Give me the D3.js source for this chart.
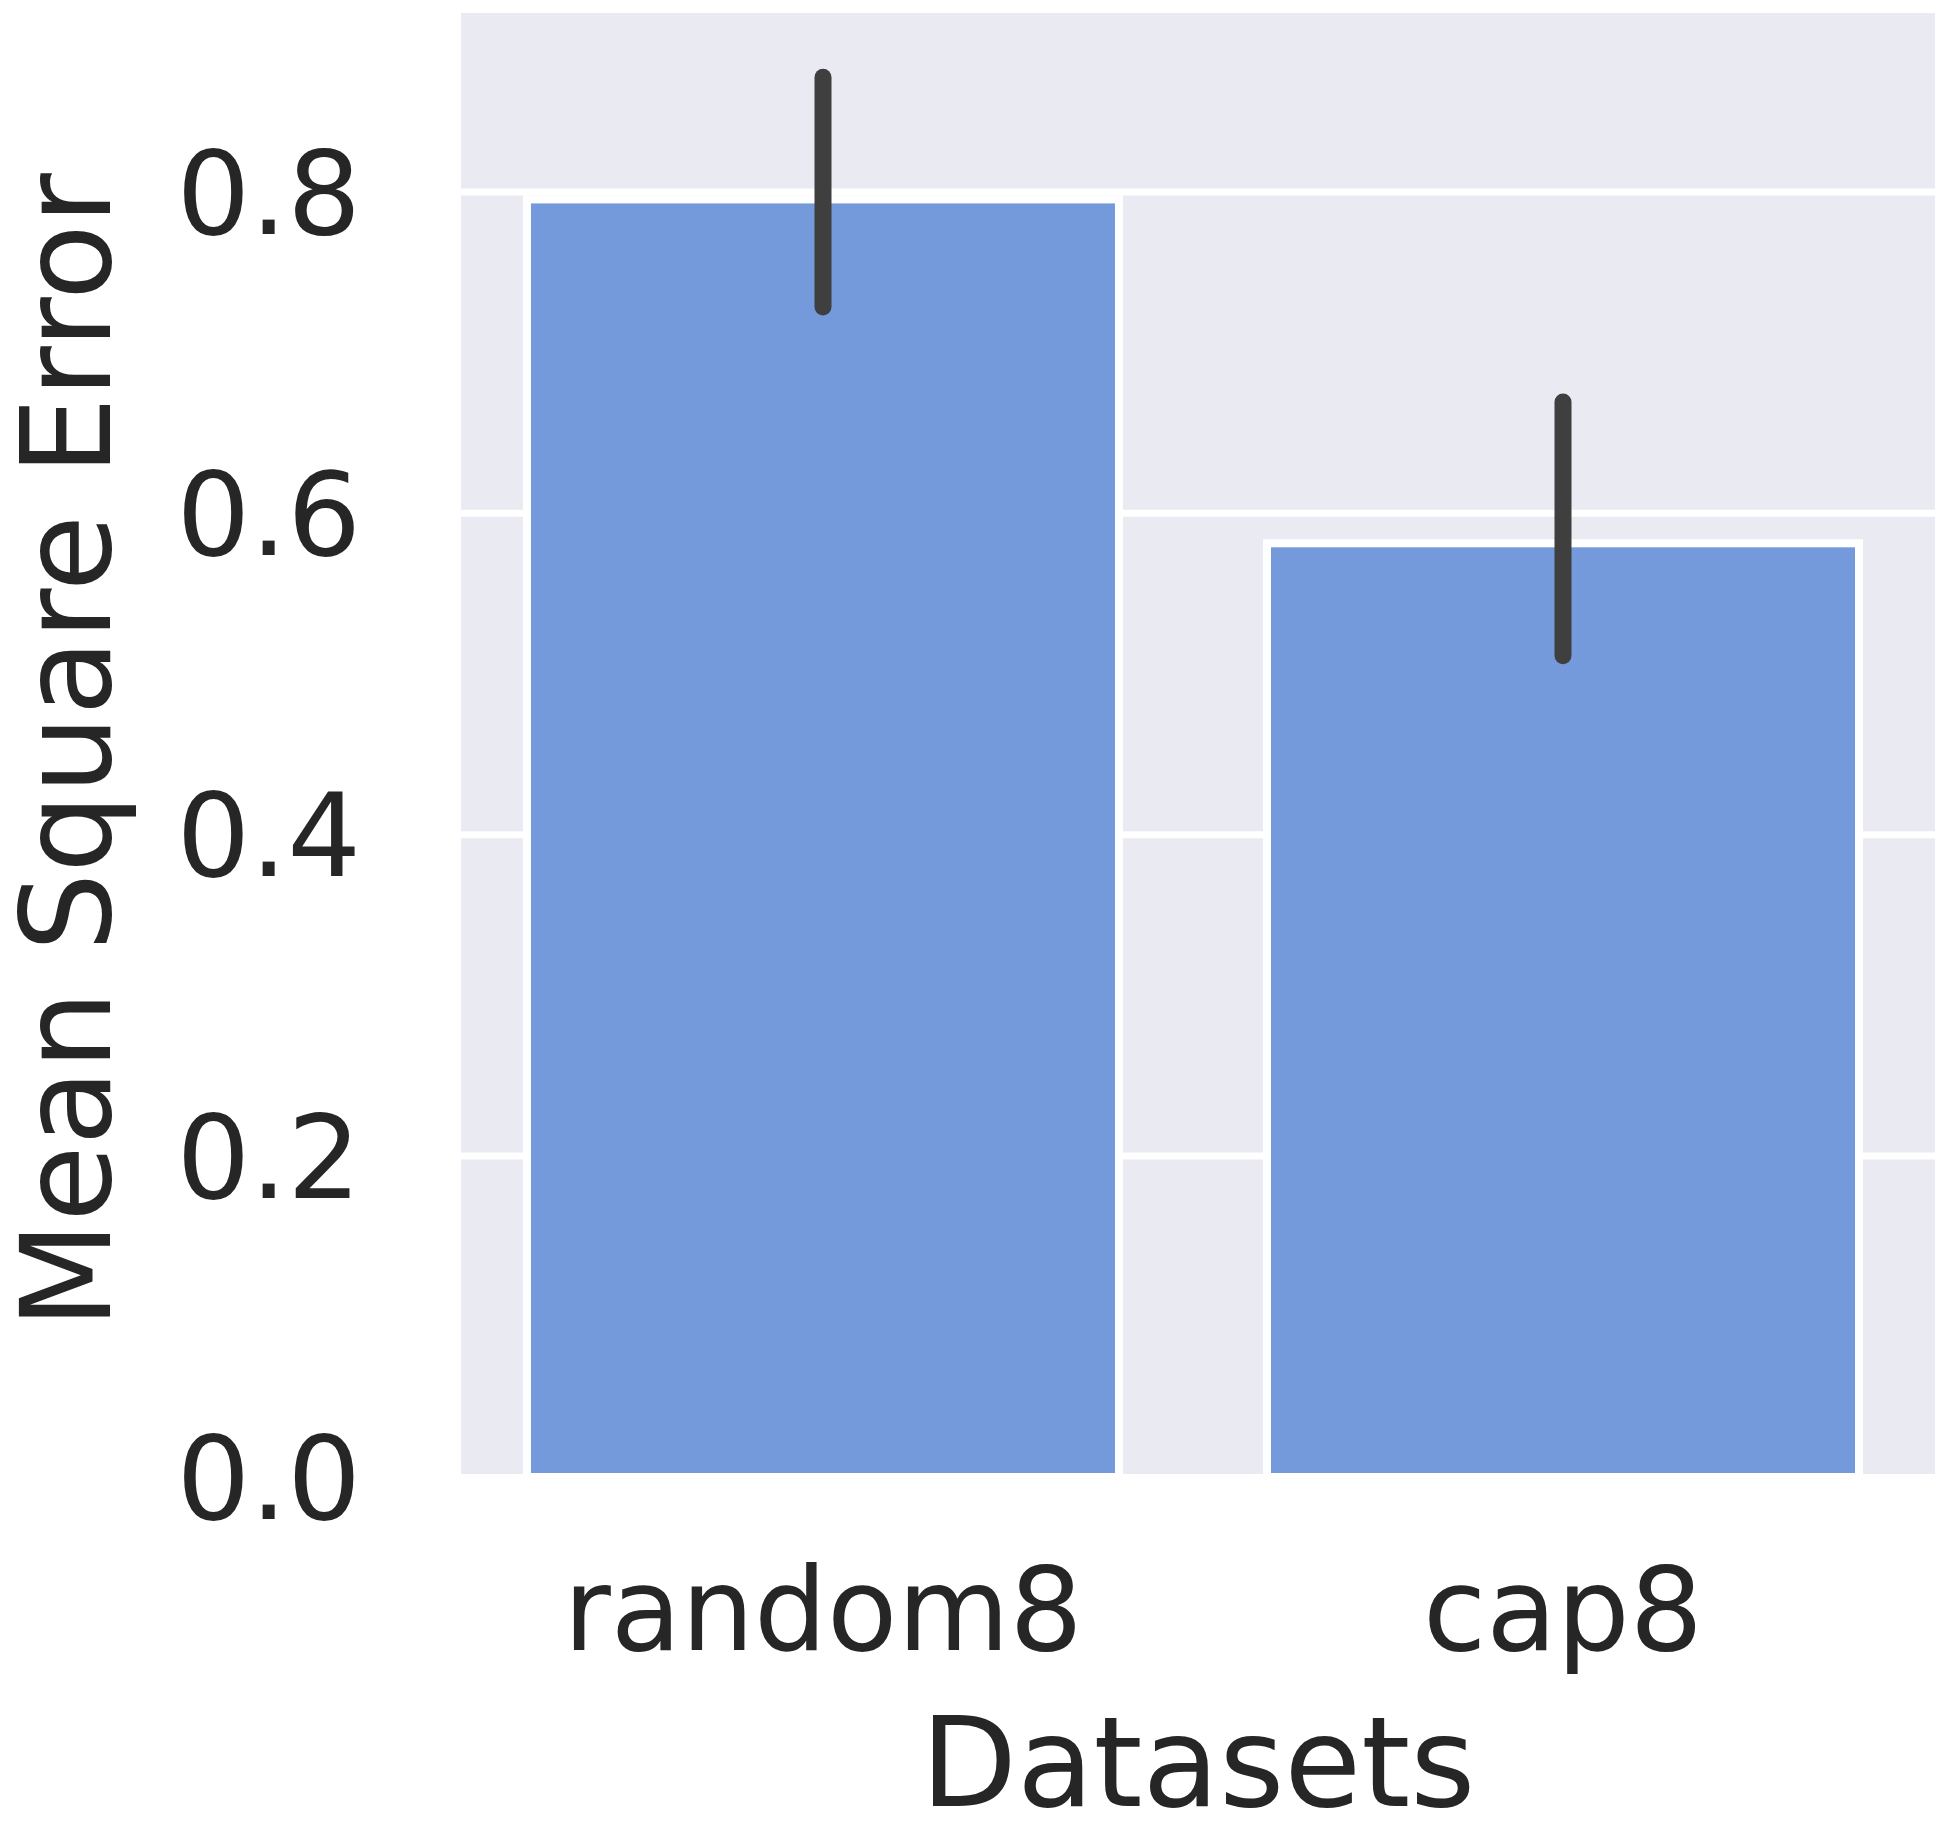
<!DOCTYPE html>
<html>
<head>
  <meta charset="utf-8">
  <script src="https://d3js.org/d3.v7.min.js"></script>
  <style type="text/css">
  body{
    margin: 0;
    background: #fff;
  }
  svg{
    display: block;
  }
  .yaxis path, .xaxis path {
    display: none;
  }
  .yaxis line {
    stroke: #fff;
    stroke-width: 7;
  }
  </style>
</head>
<body>
  <script type="text/javascript">
    "use strict";

    // values
    var datasets = ["random8", "cap8"];
    var mse = [0.795, 0.581];
    var ciLow = [0.728, 0.511];
    var ciHigh = [0.871, 0.669];
    var yTicks = [0.0, 0.2, 0.4, 0.6, 0.8];
    var yMax = 0.911;

    var fullWidth = 1950, fullHeight = 1832;
    var plot = {left: 461, right: 1935, top: 13, bottom: 1477};
    var textColor = "#262626";
    var font = "'DejaVu Sans', sans-serif";

    var svg = d3.select("body")
      .append("svg")
      .attr("width", fullWidth)
      .attr("height", fullHeight);

    // scales
    var x = d3.scaleBand()
      .domain(datasets)
      .range([453, 1933])
      .paddingInner(0.2)
      .paddingOuter(0.1);

    var y = d3.scaleLinear()
      .domain([0, yMax])
      .range([plot.bottom, plot.top]);

    // darkgrid background
    svg.append("rect")
      .attr("x", plot.left)
      .attr("y", plot.top)
      .attr("width", plot.right - plot.left)
      .attr("height", plot.bottom - plot.top)
      .attr("fill", "#eaeaf2");

    // y axis, ticks used as white grid lines
    var yAxis = d3.axisLeft(y)
      .tickValues(yTicks)
      .tickFormat(d3.format(".1f"))
      .tickSize(-(plot.right - plot.left))
      .tickPadding(100);

    var yg = svg.append("g")
      .attr("class", "yaxis")
      .attr("transform", "translate(" + plot.left + ",0)")
      .call(yAxis);

    yg.attr("font-size", null).attr("font-family", null);
    yg.selectAll("text")
      .attr("dy", "0.36em")
      .style("font-family", font)
      .style("font-size", "116px")
      .attr("fill", textColor);

    // bars
    svg.selectAll(".bar")
      .data(datasets)
      .enter().append("rect")
      .attr("class", "bar")
      .attr("x", function(d) { return x(d); })
      .attr("width", x.bandwidth())
      .attr("y", function(d, i) { return y(mse[i]); })
      .attr("height", function(d, i) { return y(0) - y(mse[i]); })
      .attr("fill", "#759adc")
      .attr("stroke", "#fff")
      .attr("stroke-width", 8);

    // confidence interval lines
    svg.selectAll(".err")
      .data(datasets)
      .enter().append("line")
      .attr("class", "err")
      .attr("x1", function(d) { return x(d) + x.bandwidth() / 2; })
      .attr("x2", function(d) { return x(d) + x.bandwidth() / 2; })
      .attr("y1", function(d, i) { return y(ciLow[i]); })
      .attr("y2", function(d, i) { return y(ciHigh[i]); })
      .attr("stroke", "#3f3f3f")
      .attr("stroke-width", 17)
      .attr("stroke-linecap", "round");

    // x axis labels
    var xAxis = d3.axisBottom(x).tickSize(0);

    var xg = svg.append("g")
      .attr("class", "xaxis")
      .attr("transform", "translate(0," + plot.bottom + ")")
      .call(xAxis);

    xg.attr("font-size", null).attr("font-family", null);
    xg.selectAll("text")
      .attr("y", 173)
      .attr("dy", null)
      .style("font-family", font)
      .style("font-size", "115px")
      .attr("fill", textColor);

    // axis titles
    svg.append("text")
      .attr("x", (plot.left + plot.right) / 2)
      .attr("y", 1806)
      .attr("text-anchor", "middle")
      .style("font-family", font)
      .style("font-size", "125px")
      .attr("fill", textColor)
      .text("Datasets");

    svg.append("text")
      .attr("transform", "translate(110," + ((plot.top + plot.bottom) / 2 + 6) + ") rotate(-90)")
      .attr("text-anchor", "middle")
      .style("font-family", font)
      .style("font-size", "124px")
      .attr("fill", textColor)
      .text("Mean Square Error");
  </script>
</body>
</html>
